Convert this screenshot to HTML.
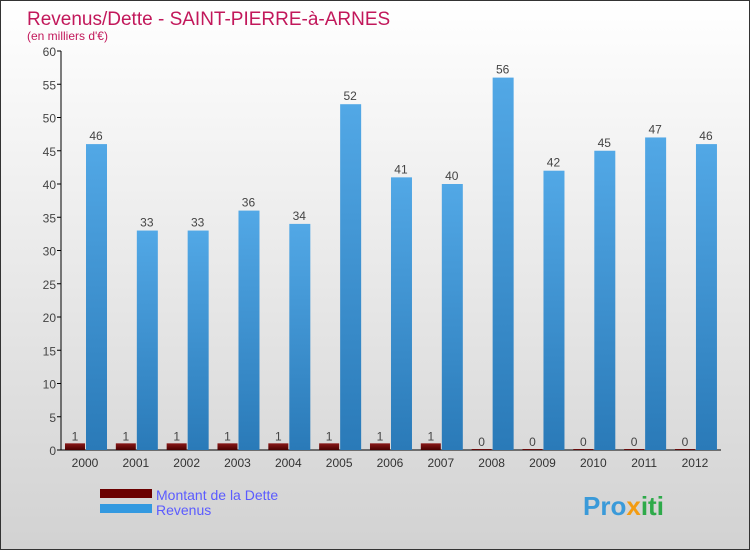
<!DOCTYPE html>
<html><head><meta charset="utf-8"><style>
body{margin:0;width:750px;height:550px;overflow:hidden;font-family:"Liberation Sans",sans-serif}
#wrap{position:relative;width:748px;height:548px;border:1px solid #333;background:linear-gradient(#fff,#d2d2d2)}
</style></head><body>
<div id="wrap">
<svg id="c" width="748" height="548">
<defs>
<linearGradient id="gb" x1="0" x2="0" y1="0" y2="1"><stop offset="0" stop-color="#52a8e6"/><stop offset="1" stop-color="#2a7ab8"/></linearGradient>
<linearGradient id="gr" x1="0" x2="0" y1="0" y2="1"><stop offset="0" stop-color="#8a1818"/><stop offset="1" stop-color="#4a0000"/></linearGradient>
</defs>
<text x="26" y="24" font-size="19" fill="#c2185b">Revenus/Dette - SAINT-PIERRE-à-ARNES</text>
<text x="26" y="39" font-size="12" fill="#c2185b">(en milliers d'€)</text>
<g id="axes"></g><g id="bars"></g>
<rect x="99" y="488" width="52" height="9" fill="#6b0000"/>
<text x="155" y="499" font-size="14" fill="#5b5bff">Montant de la Dette</text>
<rect x="99" y="503" width="52" height="9" fill="#3399e0"/>
<text x="155" y="514" font-size="14" fill="#5b5bff">Revenus</text>
<text x="582" y="514" font-size="26" font-weight="bold" fill="#3a9ad9">Pro<tspan fill="#f39c12">x</tspan><tspan fill="#2eaa4a">iti</tspan></text>
</svg></div>
<script>
const years=["2000","2001","2002","2003","2004","2005","2006","2007","2008","2009","2010","2011","2012"];
const debt=[1,1,1,1,1,1,1,1,0,0,0,0,0];
const revenus=[46,33,33,36,34,52,41,40,56,42,45,47,46];
const yTicks=[0,5,10,15,20,25,30,35,40,45,50,55,60];
const NS="http://www.w3.org/2000/svg";
const y0=449,k=6.65,x0=84,step=50.83;
const Y=v=>y0-v*k, X=i=>x0+i*step;
function mk(t,a,p){const e=document.createElementNS(NS,t);for(const n in a)e.setAttribute(n,a[n]);p.appendChild(e);return e;}
const ax=document.getElementById('axes'),bs=document.getElementById('bars');
yTicks.forEach(v=>{
 const l=mk('line',{x1:56,x2:60,y1:Y(v),y2:Y(v),stroke:'#000'},ax);
 
 
 const t=mk('text',{x:55,y:Y(v)+5,'text-anchor':'end','font-size':12,fill:'#444'},ax);t.textContent=v;
 
 
});
let a=mk('line',{x1:60,x2:60,y1:Y(60),y2:y0,stroke:'#000'},ax);


a=mk('line',{x1:56,x2:720,y1:y0,y2:y0,stroke:'#000'},ax);


years.forEach((yr,i)=>{
 const cx=X(i);
 const t=mk('text',{x:cx,y:466,'text-anchor':'middle','font-size':12,fill:'#333'},ax);t.textContent=yr;
 
 
 const dh=Math.max(debt[i]*k,1);
 const d=mk('rect',{x:cx-20,y:y0-dh,width:20,height:dh,fill:'url(#gr)'},bs);
 
 
 const dl=mk('text',{x:cx-10,y:y0-dh-3,'text-anchor':'middle','font-size':12,fill:'#444'},bs);dl.textContent=debt[i];
 
 
 const r=mk('rect',{x:cx+1,y:Y(revenus[i]),width:21,height:revenus[i]*k,fill:'url(#gb)'},bs);
 
 
 const rl=mk('text',{x:cx+11,y:Y(revenus[i])-4,'text-anchor':'middle','font-size':12,fill:'#444'},bs);rl.textContent=revenus[i];
 
 
});
</script>
</body></html>
